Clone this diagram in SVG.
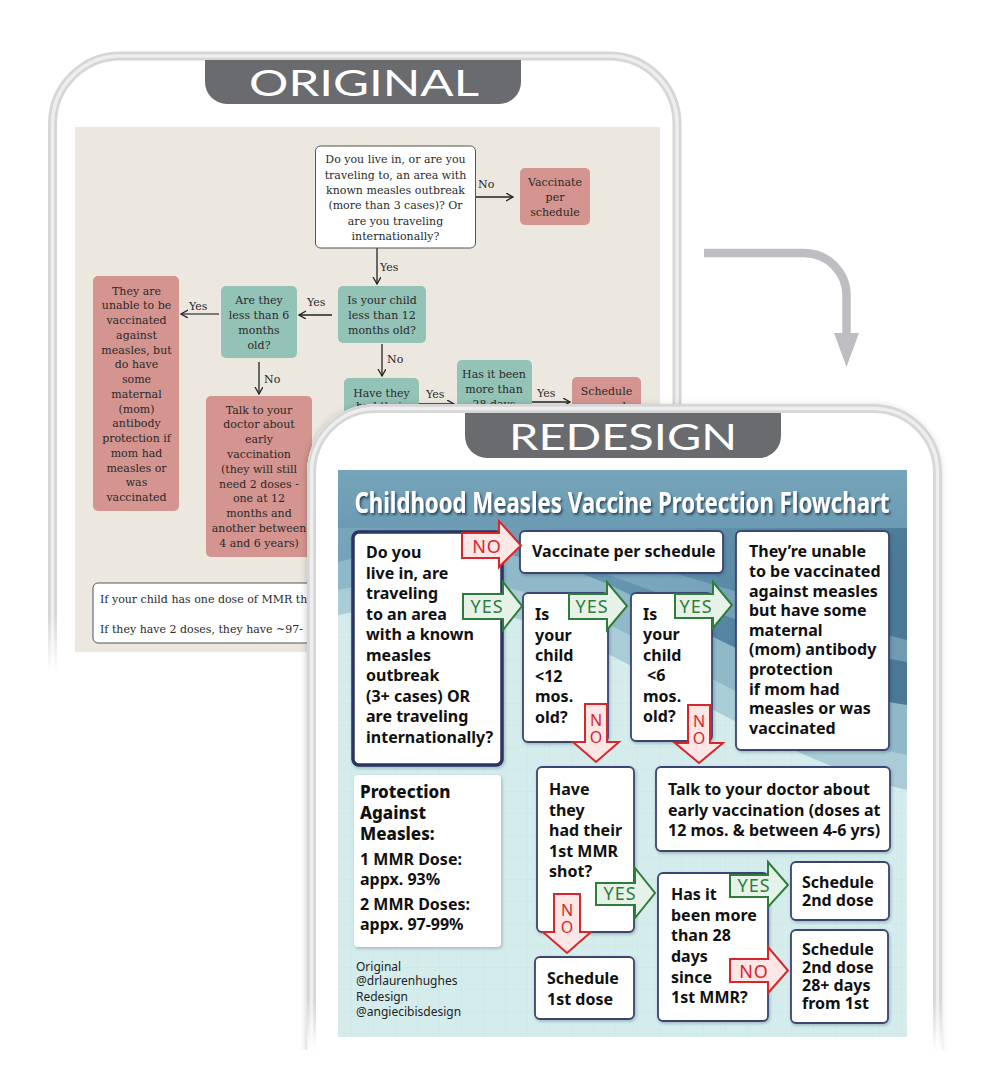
<svg xmlns="http://www.w3.org/2000/svg" width="1000" height="1092" viewBox="0 0 1000 1092">
<defs>
<style>
.o{font-family:"DejaVu Serif","Liberation Serif",serif;font-size:11px;fill:#2a2a2a;text-anchor:middle}
.ol{font-family:"DejaVu Serif","Liberation Serif",serif;font-size:11px;fill:#2a2a2a}
.pink{fill:#d4948f}
.teal{fill:#93c2b7}
.oline{stroke:#222;stroke-width:1.3;fill:none;marker-end:url(#chev)}
.tab{fill:#6a6b6f}
.tabt{font-family:Lato,"Open Sans",sans-serif;font-size:36px;fill:#fff;text-anchor:middle}
.n{font-family:"Noto Sans","Open Sans",sans-serif;font-weight:700;font-size:16px;fill:#111}
.h{font-family:"Noto Sans","Open Sans",sans-serif;font-weight:800;font-size:17px;fill:#111}
.cr{font-family:"Noto Sans","Open Sans",sans-serif;font-size:12px;fill:#222}
.box{fill:#fff;stroke:#3b4472;stroke-width:1.8;filter:url(#sh)}
.ya{fill:#e6f2e8;stroke:#2e7d3c;stroke-width:2}
.na{fill:#fde6e6;stroke:#d7262c;stroke-width:2}
.yt{font-family:"Noto Sans","Open Sans",sans-serif;font-size:18px;fill:#2e7d3c;text-anchor:middle;letter-spacing:1px}
.nt{font-family:"Noto Sans","Open Sans",sans-serif;font-size:18px;fill:#d7262c;text-anchor:middle;letter-spacing:1px}
.nv{font-family:"Noto Sans","Open Sans",sans-serif;font-size:16px;fill:#d7262c;text-anchor:middle}
</style>
<marker id="chev" markerUnits="userSpaceOnUse" markerWidth="10" markerHeight="10" refX="7" refY="4" orient="auto">
<path d="M0,0 L7,4 L0,8" fill="none" stroke="#222" stroke-width="1.3"/>
</marker>
<filter id="sh" x="-10%" y="-10%" width="130%" height="130%">
<feDropShadow dx="1" dy="1.5" stdDeviation="1.5" flood-color="#1d3a4a" flood-opacity="0.3"/>
</filter>
<filter id="tsh" x="-5%" y="-30%" width="110%" height="160%">
<feDropShadow dx="1.5" dy="2" stdDeviation="1.2" flood-color="#1c3547" flood-opacity="0.85"/>
</filter>
<filter id="psh" x="-10%" y="-10%" width="120%" height="120%">
<feDropShadow dx="-1" dy="1" stdDeviation="3" flood-color="#000" flood-opacity="0.18"/>
</filter>
<linearGradient id="mgO" gradientUnits="userSpaceOnUse" x1="0" y1="615" x2="0" y2="672">
<stop offset="0" stop-color="#fff"/><stop offset="1" stop-color="#000"/>
</linearGradient>
<linearGradient id="mgR" gradientUnits="userSpaceOnUse" x1="0" y1="1000" x2="0" y2="1052">
<stop offset="0" stop-color="#fff"/><stop offset="1" stop-color="#000"/>
</linearGradient>
<mask id="mO" maskUnits="userSpaceOnUse" x="0" y="0" width="1000" height="1092"><rect width="1000" height="1092" fill="url(#mgO)"/></mask>
<mask id="mR" maskUnits="userSpaceOnUse" x="0" y="0" width="1000" height="1092"><rect width="1000" height="1092" fill="url(#mgR)"/></mask>
<linearGradient id="blue" x1="0" y1="0" x2="1" y2="0.4">
<stop offset="0" stop-color="#7aa8bd"/><stop offset="0.6" stop-color="#6595af"/><stop offset="1" stop-color="#4a7896"/>
</linearGradient>
<linearGradient id="topg" x1="0" y1="0" x2="0" y2="1">
<stop offset="0" stop-color="#76a4ba"/><stop offset="1" stop-color="#6b9bb3"/>
</linearGradient>
<pattern id="grid" patternUnits="userSpaceOnUse" width="22" height="22">
<path d="M22,0 V22 H0" fill="none" stroke="#c4e0e2" stroke-width="1"/>
</pattern>
<clipPath id="bgc"><rect x="338" y="470" width="569" height="567"/></clipPath>
</defs>

<rect width="1000" height="1092" fill="#fff"/>

<!-- ORIGINAL panel -->
<g id="original-frame">
<g mask="url(#mO)">
<path d="M52.5,672 V124 A68,68 0 0 1 120.5,56 H609 A68,68 0 0 1 677,124 V672" fill="none" stroke="#d6d6d6" stroke-width="9"/>
<path d="M52.5,672 V124 A68,68 0 0 1 120.5,56 H609 A68,68 0 0 1 677,124 V672" fill="none" stroke="#eeeeee" stroke-width="3.5"/>
</g>
<path class="tab" d="M205,60 H521 V82 A22,22 0 0 1 499,104 H227 A22,22 0 0 1 205,82 Z"/>
<text class="tabt" x="364" y="96" textLength="230" lengthAdjust="spacingAndGlyphs">ORIGINAL</text>
<rect x="75" y="127" width="585" height="525" fill="#ece7df"/>
</g>

<g id="original-connectors">
<line class="oline" x1="476" y1="197" x2="513" y2="197"/>
<text class="ol" x="478" y="188">No</text>
<line class="oline" x1="377" y1="248" x2="377" y2="284"/>
<text class="ol" x="380" y="271">Yes</text>
<line class="oline" x1="332" y1="315" x2="299" y2="315"/>
<text class="ol" x="307" y="306">Yes</text>
<line class="oline" x1="219" y1="314" x2="181" y2="314" style="stroke:#555"/>
<text class="ol" x="189" y="310">Yes</text>
<line class="oline" x1="259" y1="362" x2="259" y2="394"/>
<text class="ol" x="264" y="383">No</text>
<line class="oline" x1="382" y1="344" x2="382" y2="376"/>
<text class="ol" x="387" y="363">No</text>
<line class="oline" x1="419" y1="404" x2="454" y2="404"/>
<text class="ol" x="426" y="397.5">Yes</text>
<line class="oline" x1="532" y1="402" x2="570" y2="402"/>
<text class="ol" x="537" y="397">Yes</text>
</g>

<g id="o-q1">
<rect x="315.5" y="146" width="160" height="102" rx="5" fill="#fff" stroke="#555" stroke-width="1"/>
<text class="o"><tspan x="395.5" y="163.3">Do you live in, or are you</tspan><tspan x="395.5" y="178.6">traveling to, an area with</tspan><tspan x="395.5" y="194">known measles outbreak</tspan><tspan x="395.5" y="209.3">(more than 3 cases)? Or</tspan><tspan x="395.5" y="224.6">are you traveling</tspan><tspan x="395.5" y="240">internationally?</tspan></text>
</g>
<g id="o-vacc">
<rect class="pink" x="520" y="168" width="70" height="57" rx="5"/>
<text class="o"><tspan x="555" y="185.5">Vaccinate</tspan><tspan x="555" y="200.5">per</tspan><tspan x="555" y="215.5">schedule</tspan></text>
</g>
<g id="o-q12">
<rect class="teal" x="338" y="286" width="88" height="57" rx="5"/>
<text class="o"><tspan x="382" y="304">Is your child</tspan><tspan x="382" y="319">less than 12</tspan><tspan x="382" y="334">months old?</tspan></text>
</g>
<g id="o-q6">
<rect class="teal" x="221" y="286" width="76" height="72" rx="5"/>
<text class="o"><tspan x="259" y="304">Are they</tspan><tspan x="259" y="319">less than 6</tspan><tspan x="259" y="334">months</tspan><tspan x="259" y="348.5">old?</tspan></text>
</g>
<g id="o-unable">
<rect class="pink" x="93" y="276" width="86" height="235" rx="5"/>
<text class="o"><tspan x="136.5" y="294.5">They are</tspan><tspan x="136.5" y="309.3">unable to be</tspan><tspan x="136.5" y="324">vaccinated</tspan><tspan x="136.5" y="338.8">against</tspan><tspan x="136.5" y="353.5">measles, but</tspan><tspan x="136.5" y="368.3">do have</tspan><tspan x="136.5" y="383">some</tspan><tspan x="136.5" y="397.8">maternal</tspan><tspan x="136.5" y="412.5">(mom)</tspan><tspan x="136.5" y="427.3">antibody</tspan><tspan x="136.5" y="442">protection if</tspan><tspan x="136.5" y="456.8">mom had</tspan><tspan x="136.5" y="471.5">measles or</tspan><tspan x="136.5" y="486.3">was</tspan><tspan x="136.5" y="501">vaccinated</tspan></text>
</g>
<g id="o-talk">
<rect class="pink" x="206" y="396" width="106" height="161" rx="5"/>
<text class="o"><tspan x="259" y="413.5">Talk to your</tspan><tspan x="259" y="428.3">doctor about</tspan><tspan x="259" y="443.1">early</tspan><tspan x="259" y="457.9">vaccination</tspan><tspan x="259" y="472.7">(they will still</tspan><tspan x="259" y="487.5">need 2 doses -</tspan><tspan x="259" y="502.3">one at 12</tspan><tspan x="259" y="517.1">months and</tspan><tspan x="259" y="531.9">another between</tspan><tspan x="259" y="546.7">4 and 6 years)</tspan></text>
</g>
<g id="o-have">
<rect class="teal" x="344" y="378" width="75" height="80" rx="5"/>
<text class="o"><tspan x="381.5" y="396.7">Have they</tspan><tspan x="381.5" y="410">had their</tspan></text>
</g>
<g id="o-has">
<rect class="teal" x="457" y="360" width="75" height="80" rx="5"/>
<text class="o"><tspan x="494" y="378">Has it been</tspan><tspan x="494" y="393">more than</tspan><tspan x="494" y="408">28 days</tspan></text>
</g>
<g id="o-sched">
<rect class="pink" x="572" y="377" width="69" height="60" rx="5"/>
<text class="o"><tspan x="606.5" y="395">Schedule</tspan><tspan x="606.5" y="410">second</tspan></text>
</g>
<g id="o-note">
<rect x="93" y="583" width="300" height="60" rx="5" fill="#fff" stroke="#555" stroke-width="1"/>
<text class="ol" x="100" y="602.7">If your child has one dose of MMR th</text>
<text class="ol" x="100" y="632.7">If they have 2 doses, they have ~97-</text>
</g>

<!-- gray transition arrow -->
<g id="transition-arrow">
<path d="M704,253 H804 A42.5,42.5 0 0 1 846.5,295.5 V335" fill="none" stroke="#bdbec1" stroke-width="8.5"/>
<path d="M834,333 H859 L846.5,367 Z" fill="#bdbec1"/>
</g>

<!-- REDESIGN panel -->
<g id="redesign-frame">
<path d="M307,1092 V472 A68,68 0 0 1 375,404 H874 A68,68 0 0 1 942,472 V1092 Z" fill="#fff" filter="url(#psh)"/>
<rect x="300" y="1050" width="650" height="42" fill="#fff"/>
<g mask="url(#mR)">
<path d="M311.5,1052 V472 A64,64 0 0 1 375.5,408.5 H873.5 A64,64 0 0 1 937.5,472 V1052" fill="none" stroke="#d6d6d6" stroke-width="9"/>
<path d="M311.5,1052 V472 A64,64 0 0 1 375.5,408.5 H873.5 A64,64 0 0 1 937.5,472 V1052" fill="none" stroke="#eeeeee" stroke-width="3.5"/>
</g>
<path class="tab" d="M465,413 H781 V436 A22,22 0 0 1 759,458 H487 A22,22 0 0 1 465,436 Z"/>
<text class="tabt" x="623" y="450" textLength="228" lengthAdjust="spacingAndGlyphs">REDESIGN</text>
</g>

<g id="redesign-bg" clip-path="url(#bgc)">
<rect x="338" y="470" width="569" height="567" fill="#d4ecec"/>
<rect x="338" y="470" width="569" height="567" fill="url(#grid)" opacity="0.7"/>
<path d="M338,615 C430,595 520,610 600,650 C700,700 800,765 907,790 V470 H338 Z" fill="#a9ccd7"/>
<path d="M338,590 C430,570 520,580 600,620 C700,670 800,735 907,755 V470 H338 Z" fill="#8fb8c9"/>
<path d="M338,562 C420,540 520,545 610,585 C700,628 800,690 907,705 V470 H338 Z" fill="url(#blue)"/>
<path d="M540,545 C640,555 750,600 907,640 V662 C780,640 680,600 580,565 Z" fill="#8ab3c6" opacity="0.6"/>
<rect x="338" y="470" width="569" height="58" fill="url(#topg)"/>
</g>

<text id="title" x="622" y="513" textLength="535" lengthAdjust="spacingAndGlyphs" font-family="'Noto Sans','Open Sans',sans-serif" font-weight="700" font-size="28" fill="#fff" text-anchor="middle" filter="url(#tsh)">Childhood Measles Vaccine Protection Flowchart</text>

<g id="r-q1">
<rect x="353" y="532" width="149" height="233" rx="6" fill="#fff" stroke="#2c3463" stroke-width="3.5" filter="url(#sh)"/>
<text class="n"><tspan x="366" y="558">Do you</tspan><tspan x="366" y="578.5">live in, are</tspan><tspan x="366" y="599">traveling</tspan><tspan x="366" y="619.5">to an area</tspan><tspan x="366" y="640">with a known</tspan><tspan x="366" y="660.5">measles</tspan><tspan x="366" y="681">outbreak</tspan><tspan x="366" y="701.5">(3+ cases) OR</tspan><tspan x="366" y="722">are traveling</tspan><tspan x="366" y="742.5">internationally?</tspan></text>
</g>
<g id="r-vacc">
<rect class="box" x="520" y="531" width="203" height="42" rx="5"/>
<text class="n" x="532" y="557">Vaccinate per schedule</text>
</g>
<g id="r-q12">
<rect class="box" x="523" y="593" width="85" height="149" rx="5"/>
<text class="n"><tspan x="535" y="620">Is</tspan><tspan x="535" y="640.5">your</tspan><tspan x="535" y="661">child</tspan><tspan x="535" y="681.5">&lt;12</tspan><tspan x="535" y="702">mos.</tspan><tspan x="535" y="722.5">old?</tspan></text>
</g>
<g id="r-q6">
<rect class="box" x="631" y="593" width="81" height="148" rx="5"/>
<text class="n"><tspan x="643" y="619.5">Is</tspan><tspan x="643" y="640">your</tspan><tspan x="643" y="660.5">child</tspan><tspan x="647" y="681">&lt;6</tspan><tspan x="643" y="701.5">mos.</tspan><tspan x="643" y="722">old?</tspan></text>
</g>
<g id="r-unable">
<rect class="box" x="736" y="531" width="153" height="219" rx="5"/>
<text class="n"><tspan x="749" y="557.3">They’re unable</tspan><tspan x="749" y="577">to be vaccinated</tspan><tspan x="749" y="596.6">against measles</tspan><tspan x="749" y="616.2">but have some</tspan><tspan x="749" y="635.8">maternal</tspan><tspan x="749" y="655.4">(mom) antibody</tspan><tspan x="749" y="675">protection</tspan><tspan x="749" y="694.6">if mom had</tspan><tspan x="749" y="714.2">measles or was</tspan><tspan x="749" y="733.8">vaccinated</tspan></text>
</g>
<g id="r-talk">
<rect class="box" x="656" y="767" width="234" height="84" rx="5"/>
<text class="n"><tspan x="668" y="795">Talk to your doctor about</tspan><tspan x="668" y="815.5">early vaccination (doses at</tspan><tspan x="668" y="836">12 mos. &amp; between 4-6 yrs)</tspan></text>
</g>
<g id="r-have">
<rect class="box" x="537" y="767" width="97" height="165" rx="5"/>
<text class="n"><tspan x="549" y="795">Have</tspan><tspan x="549" y="815.5">they</tspan><tspan x="549" y="836">had their</tspan><tspan x="549" y="856.5">1st MMR</tspan><tspan x="549" y="877">shot?</tspan></text>
</g>
<g id="r-protection">
<rect x="354" y="775" width="147" height="172" rx="4" fill="#fff" filter="url(#sh)"/>
<text class="h"><tspan x="360" y="798.3">Protection</tspan><tspan x="360" y="819">Against</tspan><tspan x="360" y="839.5">Measles:</tspan></text>
<text class="n"><tspan x="360" y="865">1 MMR Dose:</tspan><tspan x="360" y="885">appx. 93%</tspan><tspan x="360" y="910">2 MMR Doses:</tspan><tspan x="360" y="930">appx. 97-99%</tspan></text>
</g>
<g id="r-credits">
<text class="cr"><tspan x="356" y="971">Original</tspan><tspan x="356" y="985">@drlaurenhughes</tspan><tspan x="356" y="1001">Redesign</tspan><tspan x="356" y="1016">@angiecibisdesign</tspan></text>
</g>
<g id="r-sched1">
<rect class="box" x="535" y="957" width="99" height="62" rx="5"/>
<text class="n"><tspan x="547" y="984">Schedule</tspan><tspan x="547" y="1005">1st dose</tspan></text>
</g>
<g id="r-has">
<rect class="box" x="658" y="873" width="110" height="148" rx="5"/>
<text class="n"><tspan x="671" y="900">Has it</tspan><tspan x="671" y="920.7">been more</tspan><tspan x="671" y="941.3">than 28</tspan><tspan x="671" y="962">days</tspan><tspan x="671" y="982.7">since</tspan><tspan x="671" y="1003.3">1st MMR?</tspan></text>
</g>
<g id="r-sched2">
<rect class="box" x="791" y="862" width="98" height="58" rx="5"/>
<text class="n"><tspan x="802" y="888">Schedule</tspan><tspan x="802" y="906">2nd dose</tspan></text>
</g>
<g id="r-sched2b">
<rect class="box" x="791" y="930" width="97" height="93" rx="5"/>
<text class="n"><tspan x="802" y="955">Schedule</tspan><tspan x="802" y="973">2nd dose</tspan><tspan x="802" y="991">28+ days</tspan><tspan x="802" y="1008.5">from 1st</tspan></text>
</g>

<g id="r-connectors">
<path class="na" d="M462,533 H499 V521 L521,545.5 L499,567 V558 H462 Z"/>
<text class="nt" x="487" y="553">NO</text>
<path class="ya" d="M463,594 H503 V582 L522,606 L503,630 V619 H463 Z"/>
<text class="yt" x="487" y="613">YES</text>
<path class="ya" d="M569,594 H607 V582 L627,606 L607,630 V619 H569 Z"/>
<text class="yt" x="592" y="613">YES</text>
<path class="ya" d="M675,594 H713 V582 L732,605 L713,628 V618 H675 Z"/>
<text class="yt" x="696" y="613">YES</text>
<path class="na" d="M585,704 H607 V742 H619 L596,762 L573,742 H585 Z"/>
<text class="nv" x="596" y="726">N</text>
<text class="nv" x="596" y="743">O</text>
<path class="na" d="M688,705 H710 V743 H723 L699,763 L675,743 H688 Z"/>
<text class="nv" x="699" y="727">N</text>
<text class="nv" x="699" y="744">O</text>
<path class="ya" d="M596,883 H635 V868 L655,893 L635,918 V905 H596 Z"/>
<text class="yt" x="620" y="900">YES</text>
<path class="na" d="M554,894 H580 V932 H591 L567,953 L543,932 H554 Z"/>
<text class="nv" x="567" y="916">N</text>
<text class="nv" x="567" y="933">O</text>
<path class="ya" d="M730,875 H768 V862 L788,885 L768,907 V897 H730 Z"/>
<text class="yt" x="754" y="892">YES</text>
<path class="na" d="M730,959 H768 V947 L788,970.5 L768,993 V982 H730 Z"/>
<text class="nt" x="754" y="978">NO</text>
</g>
</svg>
